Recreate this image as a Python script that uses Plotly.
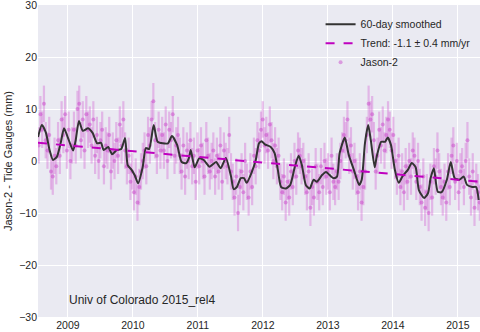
import numpy as np
import plotly.graph_objects as go

# Jason-2 minus tide gauge residuals (mm), one value per ~9.92-day cycle
start_year = 2008.55
cycle_years = 9.9156 / 365.25
jason2 = [
    3, 9, 6, 11, 4, 2, 5, -2, -3, 1,
    -1, 4, 1, 8, 5, 9, 2, 6, 0, 3,
    6, 3, 10, 11, 4, 8, 2, 9, 6, 7,
    3, 8, 1, 5, 0, 4, 6, -1, 3, 2,
    5, -2, 2, 0, 4, 1, 7, 3, 8, 2,
    -1, 1, -4, -2, -6, -3, -8, -5, -2, 0,
    2, -1, 5, 3, 8, 11.5, 4, 1, 6, 2,
    5, 2, 7, 0, 6, 4, 9, 1, 3, 5,
    1, -2, 3, -3, 2, 0, 4, -1, 1, -4,
    2, -1, 3, 0, -3, 4, 1, -2, 0, 2,
    -3, 1, -2, 3, -4, 2, 0, -1, 5, -2,
    -4, -7, -3, -10, -5, -2, -6, 0, -4, -7,
    -2, -5, 1, -1, 4, 2, 6, 8, 3, 5,
    2, 7, 4, 0, 3, -1, 1, -4, -6, -3,
    -8, -4, -7, -2, -5, 0, -3, 2, 1, -1,
    0, -3, -6, -2, -9, -5, -7, -1, -4, -6,
    -1, -5, 0, -3, -2, -6, 1, -4, -5, -2,
    -4, 0, 2, 5, 4, 8, 1, 3, -2, 0,
    -3, -6, -2, -8, -5, -2, 5, 11, 8, 9,
    4, -2, 1, 6, 3, 7, 2, 5, 8, 6,
    2, 5, 0, -3, 1, -5, -2, -6, -1, -4,
    0, -3, 2, 1, -4, 0, -5, -8, -3, -9,
    -6, -10, -4, -7, -1, -3, 2, -2, -5, -7,
    -4, -8, -2, -5, 1, 3, -4, 0, -6, -2,
    -1, -5, 0, 4, -3, -7, -2, -9, -4, -6,
    -8, -5,
]
jason2_err = 3.5
jason2_t = start_year + cycle_years * np.arange(len(jason2))

# 60-day smoothed curve
smooth_t = [
    2008.54, 2008.60, 2008.66, 2008.72, 2008.77, 2008.83, 2008.89, 2008.94, 2009.00, 2009.08,
    2009.12, 2009.17, 2009.23, 2009.31, 2009.38, 2009.45, 2009.51, 2009.55, 2009.62, 2009.68,
    2009.75, 2009.82, 2009.88, 2009.92, 2009.98, 2010.03, 2010.08, 2010.15, 2010.20, 2010.25,
    2010.32, 2010.38, 2010.46, 2010.54, 2010.60, 2010.68, 2010.75, 2010.82, 2010.86, 2010.89,
    2010.95, 2011.02, 2011.09, 2011.18, 2011.28, 2011.35, 2011.43, 2011.51, 2011.55, 2011.60,
    2011.66, 2011.71, 2011.75, 2011.83, 2011.89, 2011.94, 2011.98, 2012.03, 2012.12, 2012.18,
    2012.23, 2012.28, 2012.35, 2012.42, 2012.49, 2012.55, 2012.60, 2012.66, 2012.72, 2012.78,
    2012.83, 2012.91, 2012.97, 2013.05, 2013.09, 2013.14, 2013.18, 2013.26, 2013.32, 2013.40,
    2013.48, 2013.52, 2013.57, 2013.62, 2013.66, 2013.72, 2013.75, 2013.82, 2013.88, 2013.92,
    2013.97, 2014.03, 2014.09, 2014.15, 2014.23, 2014.29, 2014.35, 2014.40, 2014.48, 2014.54,
    2014.58, 2014.63, 2014.69, 2014.75, 2014.83, 2014.89, 2014.95, 2015.02, 2015.09, 2015.14,
    2015.22, 2015.28, 2015.32,
]
smooth_v = [
    4.6, 6.9, 5.5, 2.0, 0.2, 0.8, 3.5, 6.3, 4.5, 2.0,
    4.0, 7.7, 5.8, 6.3, 5.4, 3.4, 3.5, 2.1, 2.7, 1.3,
    2.1, 2.3, 4.4, -0.8, -1.7, -2.8, -4.3, -1.2, 2.5, 2.3,
    6.9, 3.7, 3.4, 3.4, 4.8, 3.1, -0.2, -0.4, 0.5, 2.1,
    -1.2, 0.5, 0.2, -1.1, -0.2, -1.4, 0.6, -3.0, -5.4, -5.0,
    -3.3, -3.3, -4.2, -2.1, 0.2, 3.4, 3.8, 3.2, 2.7, 1.5,
    -1.7, -5.0, -5.3, -4.6, -1.2, 1.0, -0.8, -4.6, -5.3, -3.6,
    -4.0, -2.7, -2.1, -3.0, -3.3, -3.0, 1.5, 4.5, 1.2, -1.7,
    -4.6, -3.6, 3.4, 6.9, 4.0, -1.2, 0.8, 3.7, 3.7, 4.5,
    3.1, -1.7, -4.2, -2.9, -1.7, -0.4, -1.2, -5.6, -7.1, -6.2,
    -3.3, -1.4, -5.9, -6.0, -3.6, -0.2, -3.3, -3.6, -3.0, -4.6,
    -5.0, -5.0, -7.5,
]

# Linear trend
trend_rate = -1.1
trend_t = [2008.54, 2015.34]
trend_at_start = 3.5

x_range = [2008.54, 2015.34]
year_ticks = [2009, 2010, 2011, 2012, 2013, 2014, 2015]
y_ticks = [-30, -20, -10, 0, 10, 20, 30]

MAG = "rgb(191,0,191)"

fig = go.Figure()
fig.add_trace(go.Scatter(
    x=jason2_t, y=jason2, mode="markers", name="Jason-2", legendrank=3,
    marker=dict(size=4, color="rgba(200,60,200,0.45)"),
    error_y=dict(type="constant", value=jason2_err, color="rgba(205,70,205,0.32)",
                 thickness=2.2, width=0),
))
fig.add_trace(go.Scatter(
    x=smooth_t, y=smooth_v, mode="lines", name="60-day smoothed", legendrank=1,
    line=dict(color="#333333", width=2, shape="spline", smoothing=0.6),
))
trend_v = [trend_at_start + trend_rate * (t - trend_t[0]) for t in trend_t]
fig.add_trace(go.Scatter(
    x=trend_t, y=trend_v, mode="lines", name="Trend: -1.1 ± 0.4 mm/yr", legendrank=2,
    line=dict(color=MAG, width=2, dash="dash"),
))

fig.update_layout(
    width=480, height=332,
    margin=dict(l=38, r=0, t=5, b=15),
    paper_bgcolor="white", plot_bgcolor="#EAEAF2",
    font=dict(family="Liberation Sans, Arial, sans-serif", size=11, color="#262626"),
    legend=dict(x=0.99, y=0.985, xanchor="right", yanchor="top",
                bgcolor="rgba(0,0,0,0)", font=dict(size=10.5),
                itemwidth=30, tracegroupgap=0),
    showlegend=True,
    annotations=[dict(text="Univ of Colorado 2015_rel4", x=0.066, y=0.025,
                      xref="paper", yref="paper", xanchor="left", yanchor="bottom",
                      showarrow=False, font=dict(size=12, color="#262626"))],
)
fig.update_xaxes(range=x_range, tickvals=year_ticks, ticktext=[str(y) for y in year_ticks],
                 showgrid=True, gridcolor="white", gridwidth=1, zeroline=False,
                 ticks="", tickfont=dict(size=10.5), ticklabeloverflow="allow")
fig.update_yaxes(range=[-30, 30], tickvals=y_ticks, showgrid=True, gridcolor="white",
                 gridwidth=1, zeroline=False, ticks="", ticklabeloverflow="allow",
                 title=dict(text="Jason-2 - Tide Gauges (mm)", font=dict(size=11), standoff=4),
                 tickfont=dict(size=10.5))

fig.write_html("out.html")
